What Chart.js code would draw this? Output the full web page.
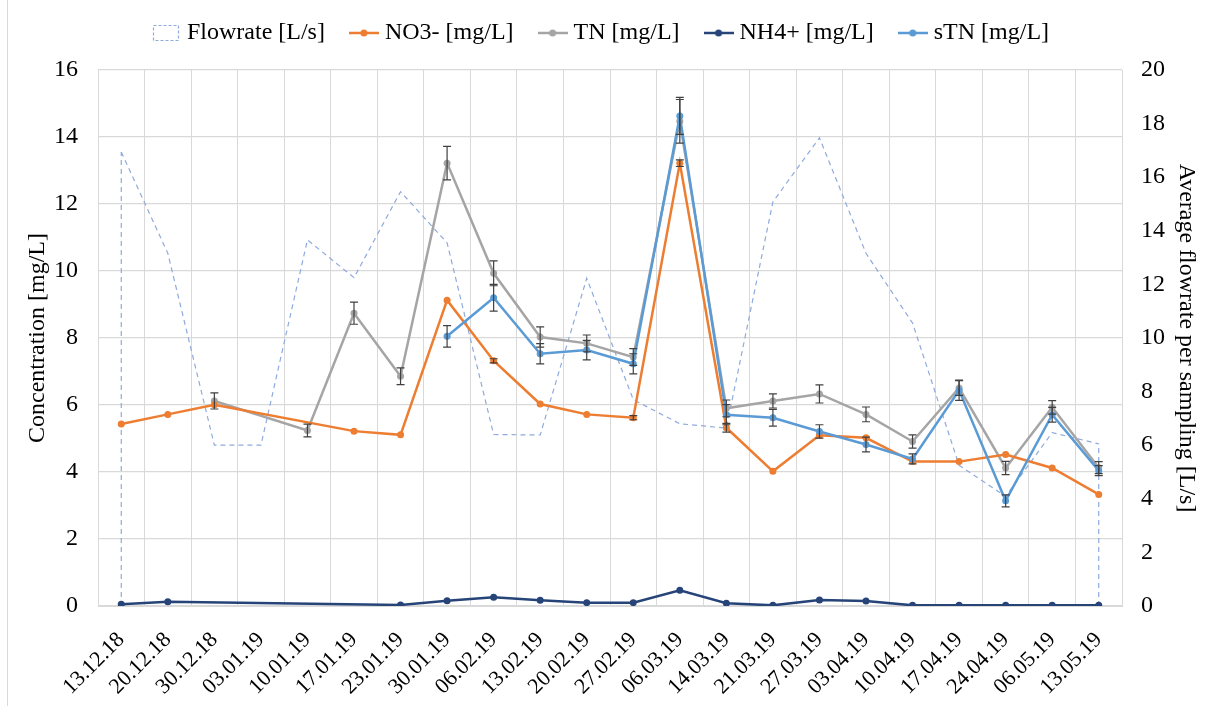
<!DOCTYPE html>
<html>
<head>
<meta charset="utf-8">
<script src="https://cdn.jsdelivr.net/npm/chart.js@4.4.0/dist/chart.umd.min.js"></script>
<style>
html,body{margin:0;padding:0;background:#fff;}
#wrap{width:1206px;height:706px;position:relative;}
canvas{display:block;}
</style>
</head>
<body>
<div id="wrap"><canvas id="c" width="1206" height="706"></canvas></div>
<script>
// ---- data ----
const dates = ["13.12.18","20.12.18","30.12.18","03.01.19","10.01.19","17.01.19","23.01.19","30.01.19","06.02.19","13.02.19","20.02.19","27.02.19","06.03.19","14.03.19","21.03.19","27.03.19","03.04.19","10.04.19","17.04.19","24.04.19","06.05.19","13.05.19"];
const flowrate = [16.94,13.16,6.0,6.0,13.66,12.25,15.46,13.55,6.4,6.38,12.23,7.7,6.8,6.64,15.08,17.47,13.16,10.56,5.25,4.09,6.47,6.05];
const no3 = [5.43,5.72,6.01,null,null,5.22,5.11,9.13,7.32,6.03,5.72,5.62,13.22,5.32,4.02,5.1,5.02,4.31,4.31,4.52,4.12,3.33];
const no3Err = [null,null,null,null,null,null,null,null,0.06,null,null,0.06,0.1,0.13,null,null,null,null,null,null,null,null];
const tn = [null,null,6.12,null,5.24,8.74,6.86,13.22,9.93,8.03,7.84,7.43,14.47,5.9,6.12,6.33,5.72,4.91,6.51,4.12,5.93,4.13];
const tnErr = [null,null,0.24,null,0.19,0.33,0.25,0.5,0.37,0.3,0.25,0.25,0.65,0.25,0.21,0.27,0.22,0.2,0.22,0.2,0.2,0.18];
const nh4 = [0.05,0.13,null,null,null,null,0.03,0.16,0.26,0.17,0.1,0.1,0.47,0.08,0.02,0.18,0.15,0.02,0.02,0.02,0.02,0.02];
const stn = [null,null,null,null,null,null,null,8.05,9.2,7.53,7.64,7.23,14.63,5.71,5.62,5.21,4.82,4.39,6.44,3.14,5.71,4.04];
const stnErr = [null,null,null,null,null,null,null,0.32,0.4,0.3,0.29,0.3,0.55,0.3,0.25,0.2,0.22,0.15,0.3,0.18,0.22,0.15];
const leftTicksMax = 16, rightTicksMax = 20, tickStep = 2;

const SERIF = '"Liberation Serif","Times New Roman",serif';
const C = {flow:'#8FAADC', no3:'#ED7D31', tn:'#A5A5A5', nh4:'#264478', stn:'#5B9BD5'};

function lineIcon(color){
  const cv = document.createElement('canvas'); cv.width = 30; cv.height = 12;
  const g = cv.getContext('2d');
  g.strokeStyle = color; g.lineWidth = 2.5;
  g.beginPath(); g.moveTo(0,6); g.lineTo(30,6); g.stroke();
  g.fillStyle = color; g.beginPath(); g.arc(15,6,3.5,0,Math.PI*2); g.fill();
  return cv;
}
function dashIcon(color){
  const cv = document.createElement('canvas'); cv.width = 30; cv.height = 20;
  const g = cv.getContext('2d');
  g.strokeStyle = color; g.lineWidth = 1.2; g.setLineDash([3,2]);
  g.strokeRect(2.5,2.5,25,15);
  return cv;
}

const errMap = {1: no3Err, 2: tnErr, 4: stnErr};

const extras = {
  id:'extras',
  beforeLayout(chart){
    const lg = chart.legend;
    if (lg && !lg._fixed){
      const f = lg.fit.bind(lg);
      lg.fit = function(){ f(); this.height = 79; };
      lg._fixed = true;
    }
  },
  beforeDraw(chart){
    const ctx = chart.ctx;
    ctx.save();
    ctx.fillStyle = '#fff'; ctx.fillRect(0,0,chart.width,chart.height);
    ctx.strokeStyle = '#d9d9d9'; ctx.lineWidth = 1;
    ctx.beginPath(); ctx.moveTo(7.5,0); ctx.lineTo(7.5,chart.height); ctx.stroke();
    ctx.restore();
  },
  beforeDatasetsDraw(chart){
    // area-style vertical edges of the flowrate series
    const meta = chart.getDatasetMeta(0);
    const y1 = chart.scales.y1;
    const pts = meta.data;
    if (!pts.length) return;
    const ctx = chart.ctx;
    const base = y1.getPixelForValue(0);
    ctx.save();
    ctx.strokeStyle = C.flow; ctx.lineWidth = 1.2; ctx.setLineDash([5,4]);
    [pts[0], pts[pts.length-1]].forEach(p => {
      ctx.beginPath(); ctx.moveTo(p.x, base); ctx.lineTo(p.x, p.y); ctx.stroke();
    });
    ctx.restore();
  },
  afterDatasetsDraw(chart){
    const ctx = chart.ctx;
    const y = chart.scales.y;
    ctx.save();
    ctx.strokeStyle = '#404040'; ctx.lineWidth = 1.2;
    Object.keys(errMap).forEach(k => {
      const di = +k;
      const vals = chart.data.datasets[di].data;
      const errs = errMap[k];
      const meta = chart.getDatasetMeta(di);
      meta.data.forEach((p, i) => {
        if (vals[i] == null || errs[i] == null) return;
        const top = y.getPixelForValue(vals[i] + errs[i]);
        const bot = y.getPixelForValue(vals[i] - errs[i]);
        const x = p.x;
        ctx.beginPath();
        ctx.moveTo(x, top); ctx.lineTo(x, bot);
        ctx.moveTo(x-4, top); ctx.lineTo(x+4, top);
        ctx.moveTo(x-4, bot); ctx.lineTo(x+4, bot);
        ctx.stroke();
      });
    });
    ctx.restore();
  }
};

function lineDs(label, data, color, order){
  return {label, data, borderColor: color, backgroundColor: color, borderWidth: 2.5,
    pointRadius: 3.5, pointHoverRadius: 3.5, pointBackgroundColor: color, pointBorderWidth: 0,
    spanGaps: true, tension: 0, yAxisID: 'y', order};
}

const chart = new Chart(document.getElementById('c'), {
  type: 'line',
  data: {
    labels: dates,
    datasets: [
      {label:'Flowrate [L/s]', data: flowrate, borderColor: C.flow, backgroundColor: 'rgba(0,0,0,0)',
       borderWidth: 1.2, borderDash: [5,4], pointRadius: 0, fill: false, tension: 0, yAxisID: 'y1', order: 9},
      lineDs('NO3- [mg/L]', no3, C.no3, 2),
      lineDs('TN [mg/L]', tn, C.tn, 3),
      lineDs('NH4+ [mg/L]', nh4, C.nh4, 4),
      lineDs('sTN [mg/L]', stn, C.stn, 1)
    ]
  },
  options: {
    responsive: false,
    animation: false,
    layout: {padding: {top: -9, left: 0, right: 0, bottom: 0}},
    plugins: {
      tooltip: {enabled: false},
      legend: {
        position: 'top',
        labels: {
          usePointStyle: true,
          pointStyleWidth: 18,
          padding: 30,
          color: '#000',
          font: {family: SERIF, size: 24},
          generateLabels(chart){
            const icons = [dashIcon(C.flow), lineIcon(C.no3), lineIcon(C.tn), lineIcon(C.nh4), lineIcon(C.stn)];
            return chart.data.datasets.map((ds, i) => ({
              text: ds.label, pointStyle: icons[i], fillStyle: 'rgba(0,0,0,0)',
              strokeStyle: 'rgba(0,0,0,0)', lineWidth: 0, hidden: false, datasetIndex: i, fontColor: '#000'
            }));
          }
        }
      }
    },
    scales: {
      x: {
        type: 'category',
        offset: true,
        grid: {offset: true, color: '#d9d9d9', lineWidth: 1, drawTicks: false},
        border: {color: '#d9d9d9'},
        ticks: {maxRotation: 45, minRotation: 45, autoSkip: false, padding: 21, color: '#000',
          font: {family: SERIF, size: 22}},
        afterFit(s){ s.height = 100; }
      },
      y: {
        position: 'left', min: 0, max: leftTicksMax,
        ticks: {stepSize: tickStep, padding: 20, color: '#000', font: {family: SERIF, size: 24}},
        grid: {color: '#d9d9d9', lineWidth: 1.3, drawTicks: false},
        border: {display: false},
        title: {display: true, text: 'Concentration [mg/L]', color: '#000',
          font: {family: SERIF, size: 24}, padding: {top: 23, bottom: 0}},
        afterFit(s){ s.width = 98; }
      },
      y1: {
        position: 'right', min: 0, max: rightTicksMax,
        ticks: {stepSize: tickStep, padding: 19, color: '#000', font: {family: SERIF, size: 24}},
        grid: {drawOnChartArea: false, drawTicks: false},
        border: {color: '#d9d9d9'},
        title: {display: true, text: 'Average flowrate per sampling [L/s]', color: '#000',
          font: {family: SERIF, size: 24}, padding: {top: 5, bottom: 0}},
        afterFit(s){ s.width = 84; }
      }
    }
  },
  plugins: [extras]
});
</script>
</body>
</html>
